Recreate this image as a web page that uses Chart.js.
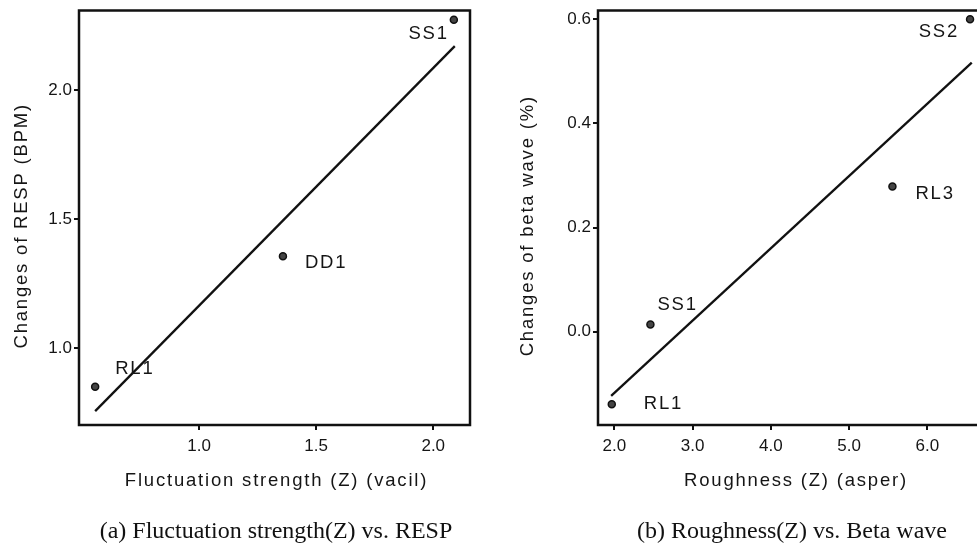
<!DOCTYPE html>
<html>
<head>
<meta charset="utf-8">
<script src="https://cdn.jsdelivr.net/npm/chart.js@4"></script>
<style>
  html, body { margin: 0; padding: 0; background: #fff; overflow: hidden; width: 977px; height: 545px; }
  .panel { position: absolute; top: 0; }
  .caption {
    position: absolute; top: 516px; line-height: 28px;
    font-family: "Liberation Serif", "Times New Roman", serif; font-size: 24px;
    color: #111; white-space: nowrap; transform: translateX(-50%);
  }
</style>
</head>
<body>
<canvas id="chartA" class="panel" width="490" height="545" style="left:0"></canvas>
<canvas id="chartB" class="panel" width="512" height="545" style="left:490px"></canvas>
<div class="caption" style="left:276px">(a) Fluctuation strength(Z) vs. RESP</div>
<div class="caption" style="left:792px">(b) Roughness(Z) vs. Beta wave</div>

<script>
// Panel (a): fluctuation strength vs RESP
const labelsA = ['RL1', 'DD1', 'SS1'];
const fluctX = [0.556, 1.358, 2.088];
const respY = [0.851, 1.357, 2.274];
const fitAX = [0.556, 2.092];
const fitAY = [0.757, 2.172];
const xTicksA = [1.0, 1.5, 2.0];
const yTicksA = [1.0, 1.5, 2.0];

// Panel (b): roughness vs beta wave
const labelsB = ['RL1', 'SS1', 'RL3', 'SS2'];
const roughX = [1.966, 2.46, 5.553, 6.545];
const betaY = [-0.139, 0.014, 0.279, 0.600];
const fitBX = [1.958, 6.567];
const fitBY = [-0.123, 0.517];
const xTicksB = [2, 3, 4, 5, 6];
const yTicksB = [0.0, 0.2, 0.4, 0.6];

// where each point label sits relative to its point
const labelPosA = [
    { dx: 20, dy: -18, align: 'left' },
    { dx: 22, dy: 7, align: 'left' },
    { dx: -5, dy: 14, align: 'right' }
];
const labelPosB = [
    { dx: 32, dy: 0, align: 'left' },
    { dx: 7, dy: -20, align: 'left' },
    { dx: 23, dy: 7, align: 'left' },
    { dx: -11, dy: 13, align: 'right' }
];

const FONT = '"Liberation Sans", Arial, sans-serif';
const INK = '#151515';

// point labels + axis titles, drawn with letter spacing like the original
const spacedText = {
    id: 'spacedText',
    afterDraw(chart, args, opts) {
        const { ctx, chartArea } = chart;
        ctx.save();
        ctx.font = '18.5px ' + FONT;
        ctx.fillStyle = INK;
        ctx.letterSpacing = '1.8px';
        ctx.textBaseline = 'middle';

        chart.getDatasetMeta(0).data.forEach((pt, i) => {
            const pos = opts.labelPos[i];
            ctx.textAlign = pos.align;
            ctx.fillText(opts.labels[i], pt.x + pos.dx, pt.y + pos.dy);
        });

        ctx.textAlign = 'center';
        ctx.fillText(opts.xTitle, (chartArea.left + chartArea.right) / 2 + 2, chartArea.bottom + 56);
        ctx.translate(opts.yTitleX, (chartArea.top + chartArea.bottom) / 2 + 8);
        ctx.rotate(-Math.PI / 2);
        ctx.fillText(opts.yTitle, 0, 0);
        ctx.restore();
    }
};

// box around the plot area
const frame = {
    id: 'frame',
    afterDatasetsDraw(chart) {
        const { ctx, chartArea: a } = chart;
        ctx.save();
        ctx.strokeStyle = '#111';
        ctx.lineWidth = 2.5;
        ctx.strokeRect(a.left, a.top, a.right - a.left, a.bottom - a.top);
        ctx.restore();
    }
};

function axis(ticks, range, fit, pad) {
    return {
        type: 'linear',
        min: range[0],
        max: range[1],
        afterBuildTicks: s => { s.ticks = ticks.map(v => ({ value: v })); },
        afterFit: fit,
        grid: { drawOnChartArea: false, drawTicks: true, tickLength: 5, color: '#111', lineWidth: 2 },
        border: { display: false },
        ticks: {
            color: INK,
            font: { family: FONT, size: 17, lineHeight: 1 },
            padding: pad,
            maxRotation: 0,
            autoSkip: false,
            callback: v => v.toFixed(1)
        }
    };
}

function makeChart(id, p) {
    return new Chart(document.getElementById(id), {
        type: 'scatter',
        data: {
            datasets: [{
                data: p.xs.map((x, i) => ({ x: x, y: p.ys[i] })),
                pointRadius: 3.5,
                pointBackgroundColor: '#444',
                pointBorderColor: '#111',
                pointBorderWidth: 1.5
            }, {
                data: p.fitX.map((x, i) => ({ x: x, y: p.fitY[i] })),
                showLine: true,
                pointRadius: 0,
                borderColor: '#111',
                borderWidth: 2.3,
                fill: false
            }]
        },
        options: {
            responsive: false,
            animation: false,
            layout: { padding: p.padding },
            scales: {
                x: axis(p.xTicks, p.xRange, s => { s.height = 35; }, 8),
                y: axis(p.yTicks, p.yRange, s => { s.width = p.yWidth; }, 2)
            },
            plugins: {
                legend: { display: false },
                tooltip: { enabled: false },
                spacedText: {
                    labels: p.labels,
                    labelPos: p.labelPos,
                    xTitle: p.xTitle,
                    yTitle: p.yTitle,
                    yTitleX: p.yTitleX
                }
            }
        },
        plugins: [frame, spacedText]
    });
}

makeChart('chartA', {
    labels: labelsA, labelPos: labelPosA,
    xs: fluctX, ys: respY, fitX: fitAX, fitY: fitAY,
    xTicks: xTicksA, yTicks: yTicksA,
    xRange: [0.487, 2.157], yRange: [0.703, 2.31],
    padding: { top: 10, right: 20, bottom: 85, left: 0 },
    yWidth: 79, yTitleX: 22,
    xTitle: 'Fluctuation strength (Z) (vacil)',
    yTitle: 'Changes of RESP (BPM)'
});

makeChart('chartB', {
    labels: labelsB, labelPos: labelPosB,
    xs: roughX, ys: betaY, fitX: fitBX, fitY: fitBY,
    xTicks: xTicksB, yTicks: yTicksB,
    xRange: [1.79, 6.80], yRange: [-0.179, 0.617],
    padding: { top: 9, right: 12, bottom: 85, left: 0 },
    yWidth: 108, yTitleX: 38,
    xTitle: 'Roughness (Z) (asper)',
    yTitle: 'Changes of beta wave (%)'
});
</script>
</body>
</html>
